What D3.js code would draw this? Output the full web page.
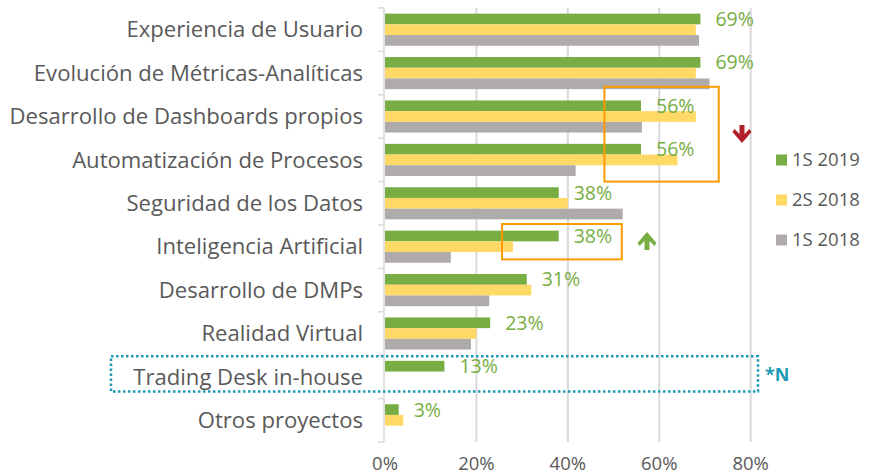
<!DOCTYPE html>
<html>
<head>
<meta charset="utf-8">
<script src="https://cdn.jsdelivr.net/npm/d3@7"></script>
<style>
  body { margin: 0; background: #fff; }
  text { font-family: "Open Sans", Lato, sans-serif; }
</style>
</head>
<body>
<div id="chart"></div>
<script>
// categories, top to bottom
const categories = [
  "Experiencia de Usuario",
  "Evolución de Métricas-Analíticas",
  "Desarrollo de Dashboards propios",
  "Automatización de Procesos",
  "Seguridad de los Datos",
  "Inteligencia Artificial",
  "Desarrollo de DMPs",
  "Realidad Virtual",
  "Trading Desk in-house",
  "Otros proyectos"
];
const seriesNames = ["1S 2019", "2S 2018", "1S 2018"];
const s1_2019 = [69, 69, 56, 56, 38, 38, 31, 23, 13, 3];
const s2_2018 = [68, 68, 68, 64, 40, 28, 32, 20, null, 4];
const s1_2018 = [68.7, 71, 56.2, 41.7, 52, 14.4, 22.8, 18.8, null, null];
const xTicks = [0, 20, 40, 60, 80];
const colors = ["#77ad43", "#ffd966", "#afabab"];

const W = 869, H = 476;
const margin = { top: 8, right: 118, bottom: 34, left: 385 };

const svg = d3.select("#chart").append("svg")
  .attr("width", W)
  .attr("height", H);

const x = d3.scaleLinear()
  .domain([0, 80])
  .range([margin.left, margin.left + 365.7]);

const y = d3.scaleBand()
  .domain(categories)
  .range([margin.top, H - margin.bottom])
  .paddingInner(0.26)
  .paddingOuter(0.13);

const sub = d3.scaleBand()
  .domain(seriesNames)
  .range([0, y.bandwidth()]);

//gridlines
svg.append("g")
  .selectAll("line")
  .data(xTicks.slice(1))
  .enter().append("line")
  .attr("x1", d => x(d)).attr("x2", d => x(d))
  .attr("y1", margin.top).attr("y2", H - margin.bottom)
  .style("stroke", "#d9d9d9")
  .style("stroke-width", 2);

//left axis line with ticks between categories
const step = y.step();
const rowTop = i => y(categories[i]) - step * y.paddingInner() / 2;
const yAxisG = svg.append("g");
yAxisG.append("line")
  .attr("x1", x(0) - 1).attr("x2", x(0) - 1)
  .attr("y1", margin.top).attr("y2", H - margin.bottom)
  .style("stroke", "#d9d9d9").style("stroke-width", 1.5);
yAxisG.selectAll(".tk")
  .data(d3.range(categories.length + 1))
  .enter().append("line")
  .attr("x1", x(0) - 7).attr("x2", x(0) - 1)
  .attr("y1", i => rowTop(0) + i * step)
  .attr("y2", i => rowTop(0) + i * step)
  .style("stroke", "#d9d9d9").style("stroke-width", 1.5);

//category labels
svg.append("g")
  .selectAll("text")
  .data(categories)
  .enter().append("text")
  .attr("x", 363)
  .attr("y", d => y(d) + y.bandwidth() / 2)
  .attr("dy", "0.35em")
  .attr("text-anchor", "end")
  .style("font-size", "22.1px")
  .style("fill", "#595959")
  .text(d => d);

//bars
const series = [s1_2019, s2_2018, s1_2018];
series.forEach((vals, si) => {
  svg.append("g")
    .selectAll("rect")
    .data(vals.map((v, i) => ({ cat: categories[i], v: v })).filter(d => d.v !== null))
    .enter().append("rect")
    .attr("x", x(0))
    .attr("y", d => y(d.cat) + sub(seriesNames[si]))
    .attr("width", d => x(d.v) - x(0))
    .attr("height", sub.bandwidth())
    .style("fill", colors[si]);
});

//value labels for 1S 2019
svg.append("g")
  .selectAll("text")
  .data(s1_2019)
  .enter().append("text")
  .attr("x", d => x(d) + 15)
  .attr("y", (d, i) => y(categories[i]) + sub(seriesNames[0]) + sub.bandwidth() / 2)
  .attr("dy", "0.36em")
  .style("font-size", "19.5px")
  .style("fill", colors[0])
  .text(d => d + "%");

//x axis labels
svg.append("g")
  .selectAll("text")
  .data(xTicks)
  .enter().append("text")
  .attr("x", d => x(d))
  .attr("y", H - 6)
  .attr("text-anchor", "middle")
  .style("font-size", "18.5px")
  .style("fill", "#595959")
  .text(d => d + "%");

//legend
const legend = svg.append("g")
  .selectAll("g")
  .data(seriesNames)
  .enter().append("g")
  .attr("transform", (d, i) => "translate(776," + (160 + i * 40) + ")");
legend.append("rect")
  .attr("x", 0).attr("y", -5.5)
  .attr("width", 11).attr("height", 11)
  .style("fill", (d, i) => colors[i]);
legend.append("text")
  .attr("x", 16).attr("dy", "0.35em")
  .style("font-size", "18.5px")
  .style("fill", "#595959")
  .text(d => d);

//highlight boxes (in data units)
const boxes = [
  { x0: 48, x1: 73, r0: 2, r1: 3, pt: -8, pb: 0 },
  { x0: 25.6, x1: 51.8, r0: 5, r1: 5, pt: -1, pb: -9 }
];
svg.append("g")
  .selectAll("rect")
  .data(boxes)
  .enter().append("rect")
  .attr("x", d => x(d.x0))
  .attr("y", d => rowTop(d.r0) + d.pt)
  .attr("width", d => x(d.x1) - x(d.x0))
  .attr("height", d => rowTop(d.r1) + step + d.pb - rowTop(d.r0) - d.pt)
  .style("fill", "none")
  .style("stroke", "#ff9900")
  .style("stroke-width", 2);

//dotted box around Trading Desk
const tdi = categories.indexOf("Trading Desk in-house");
svg.append("rect")
  .attr("x", 111)
  .attr("y", rowTop(tdi) + 1)
  .attr("width", x(81.6) - 111)
  .attr("height", step - 8)
  .style("fill", "none")
  .style("stroke", "#1a9bb4")
  .style("stroke-width", 2.5)
  .style("stroke-dasharray", "2.5,2.5");
svg.append("text")
  .attr("x", 765)
  .attr("y", rowTop(tdi) + step / 2 - 2)
  .attr("dy", "0.35em")
  .style("font-size", "18px")
  .style("font-weight", "bold")
  .style("fill", "#1a9bb4")
  .text("*N");

//arrows
function arrow(g, cx, cy, dir, color) {
  // dir 1 = down, -1 = up
  const s = dir;
  g.append("path")
    .attr("transform", "translate(" + cx + "," + cy + ")")
    .attr("d", "M-2.5," + (-9 * s) + " L2.5," + (-9 * s) + " L2.5," + (0 * s) +
      " L7.5," + (-5 * s) + " L9.5," + (-2 * s) + " L0," + (9 * s) +
      " L-9.5," + (-2 * s) + " L-7.5," + (-5 * s) + " L-2.5," + (0 * s) + " Z")
    .style("fill", color);
}
arrow(svg, 742, 134, 1, "#b0202a");
arrow(svg, 647, 241, -1, colors[0]);
</script>
</body>
</html>
